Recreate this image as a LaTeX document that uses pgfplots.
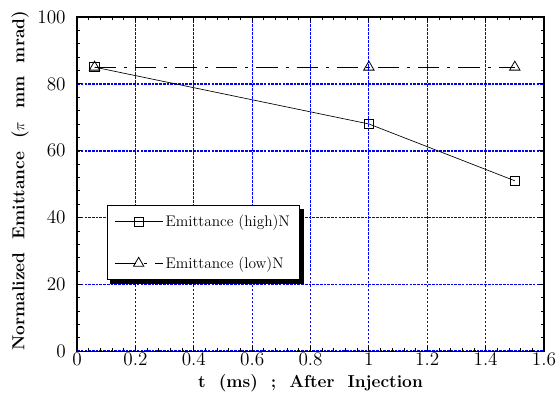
\documentclass[border=0pt]{standalone}
\usepackage{pgfplots}
\pgfplotsset{compat=1.18}
\begin{document}
\begin{tikzpicture}
\begin{axis}[
  scale only axis,
  width=350pt, height=250.5pt,
  xmin=0, xmax=1.6, ymin=0, ymax=100,
  xtick={0,0.2,...,1.6},
  ytick={0,20,...,100},
  minor x tick num=4,
  minor y tick num=4,
  tick align=inside,
  major tick length=4pt,
  minor tick length=2.5pt,
  tick style={black, line width=0.6pt},
  axis line style={line width=1pt},
  xmajorgrids, ymajorgrids,
  x grid style={blue, dash pattern=on 2pt off 1pt, line width=0.7pt},
  y grid style={blue, dash pattern=on 2pt off 0.8pt, line width=1.3pt},
  xticklabel={\pgfmathprintnumber[fixed,precision=1]{\tick}},
  x tick label style={yshift=2pt},
  y tick label style={xshift=-5pt},
  tick label style={font=\fontsize{14}{16}\selectfont},
  label style={font=\bfseries\fontsize{13}{15}\selectfont},
  xlabel={t\ \ (ms)\ \ ;\ \ After\ \ Injection},
  ylabel={Normalized\ \ Emittance\ \ ($\pi$\ \ mm\ \ mrad)},
  xlabel style={at={(axis description cs:0.5,-0.096)}, anchor=center},
  ylabel style={at={(axis description cs:-0.122,0.51)}, anchor=center},
  legend style={name=leg, at={(axis cs:0.103,43.7)}, anchor=north west,
    draw=black, line width=0.8pt, fill=white,
    font=\fontsize{11.5}{14}\selectfont,
    row sep=17pt, inner xsep=5pt, inner ysep=5pt,
    cells={anchor=west}},
  legend cell align=left,
  legend image code/.code={%
    \draw[mark repeat=2,mark phase=2,#1] plot coordinates {(0pt,0pt) (18pt,0pt) (36pt,0pt)};},
]
\addplot[black, line width=0.5pt, mark=square, mark size=3.5pt, mark options={solid, fill=white, line width=0.6pt}]
  coordinates {(0.06,85) (1.0,68) (1.5,51)};
\addlegendentry{Emittance (high)N}
\addplot[black, line width=0.5pt, dash pattern=on 16pt off 6pt on 2.3pt off 6pt, mark=triangle, mark size=4.5pt, mark options={solid, fill=white, line width=0.6pt}]
  coordinates {(0.06,85) (1.0,85) (1.5,85)};
\addlegendentry{Emittance (low)N}
\end{axis}
\fill[black] ([shift={(0.4pt,-2.5pt)}]leg.north east) rectangle ([shift={(2.9pt,-2.9pt)}]leg.south east);
\fill[black] ([shift={(2.5pt,-0.4pt)}]leg.south west) rectangle ([shift={(2.9pt,-2.9pt)}]leg.south east);
\pgfresetboundingbox
\path[use as bounding box] ([shift={(-57.75pt,-37.5pt)}]current axis.south west) rectangle ([shift={(12pt,12.75pt)}]current axis.north east);
\end{tikzpicture}
\end{document}
